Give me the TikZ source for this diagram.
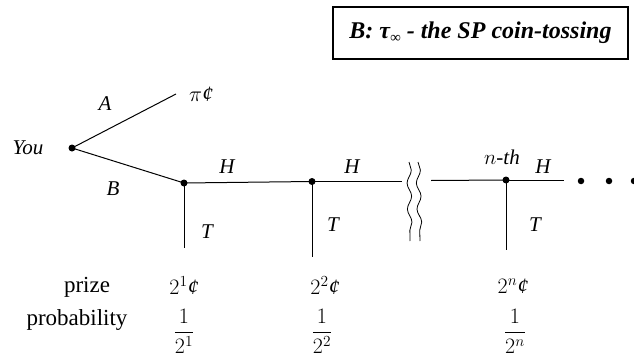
\documentclass[tikz,border=0pt]{standalone}
\usepackage{fix-cm}
\usepackage{fontspec}
\setmainfont{Liberation Serif}
\usetikzlibrary{decorations.pathmorphing}
\tikzset{
  treedot/.style={circle,fill=black,inner sep=0pt,minimum size=7pt},
  enddot/.style={circle,fill=black,inner sep=0pt,minimum size=6.5pt},
  edge/.style={line width=1pt},
  lbl/.style={font=\fontsize{21}{24}\selectfont\itshape,inner sep=0pt},
  rowtext/.style={font=\fontsize{23}{26}\selectfont,inner sep=0pt},
  mathtext/.style={font=\fontsize{22}{26}\selectfont,inner sep=0pt},
  titlebox/.style={draw=black,line width=2pt,minimum width=295pt,minimum height=52pt,inner sep=0pt,font=\fontsize{24}{28}\selectfont\bfseries\itshape},
  wave/.style={line width=0.8pt,decorate,decoration={snake,amplitude=2.2pt,segment length=26pt}}
}
\begin{document}
\begin{tikzpicture}[x=1pt,y=-1pt]
\useasboundingbox (0,0) rectangle (634,353);
% title
\node[titlebox] (title) at (480.5,33) {B: τ{\fontsize{15}{15}\selectfont\raisebox{-4pt}{∞}} - the SP coin-tossing};
% tree nodes
\node[treedot] (you) at (72,148) {};
\coordinate (aend) at (176,94);
\node[treedot] (n1) at (184,183) {};
\node[treedot] (n2) at (312,181.5) {};
\coordinate (gapL) at (402,181.5);
\coordinate (gapR) at (431,180.5);
\node[treedot] (n3) at (506,180) {};
\coordinate (hend) at (564,180);
\coordinate (t1) at (184,248);
\coordinate (t2) at (312,257);
\coordinate (t3) at (506,250);
\node[enddot] (d1) at (581,181) {};
\node[enddot] (d2) at (609,181) {};
\node[enddot] (d3) at (634,181) {};
% connectors
\draw[edge] (you.center) -- (aend);
\draw[edge] (you.center) -- (n1.center);
\draw[edge] (n1.center) -- (n2.center);
\draw[edge] (n2.center) -- (gapL);
\draw[edge] (gapR) -- (n3.center);
\draw[edge] (n3.center) -- (hend);
\draw[edge] (n1.center) -- (t1);
\draw[edge] (n2.center) -- (t2);
\draw[edge] (n3.center) -- (t3);
% wavy break
\coordinate (w1a) at (409,162);
\coordinate (w1b) at (410,241);
\coordinate (w2a) at (418,162);
\coordinate (w2b) at (420,241);
\draw[wave] (w1a) -- (w1b);
\draw[wave] (w2a) -- (w2b);
% labels
\node[lbl] (lyou) at (28,148) {You};
\node[lbl] (la) at (105,104) {A};
\node[lbl] (lb) at (113,189) {B};
\node[mathtext,anchor=west] (lpi) at (189,94) {$\pi$\textit{¢}};
\node[lbl] (h1) at (227,167) {H};
\node[lbl] (h2) at (352,167) {H};
\node[lbl] (h3) at (543,167) {H};
\node[lbl] (nth) at (502,157) {$n$-th};
\node[lbl] (tt1) at (207,232) {T};
\node[lbl] (tt2) at (333,225) {T};
\node[lbl] (tt3) at (535,225) {T};
% prize / probability rows
\node[rowtext] (prize) at (87,287) {prize};
\node[rowtext] (prob) at (77,320) {probability};
\node[mathtext] (p1) at (184,286) {$2^1$\textit{¢}};
\node[mathtext] (p2) at (325,286) {$2^2$\textit{¢}};
\node[mathtext] (p3) at (513,286) {$2^n$\textit{¢}};
\node[mathtext] (f1) at (184,331) {$\displaystyle\frac{1}{2^1}$};
\node[mathtext] (f2) at (322,331) {$\displaystyle\frac{1}{2^2}$};
\node[mathtext] (f3) at (515,331) {$\displaystyle\frac{1}{2^n}$};
\end{tikzpicture}
\end{document}
